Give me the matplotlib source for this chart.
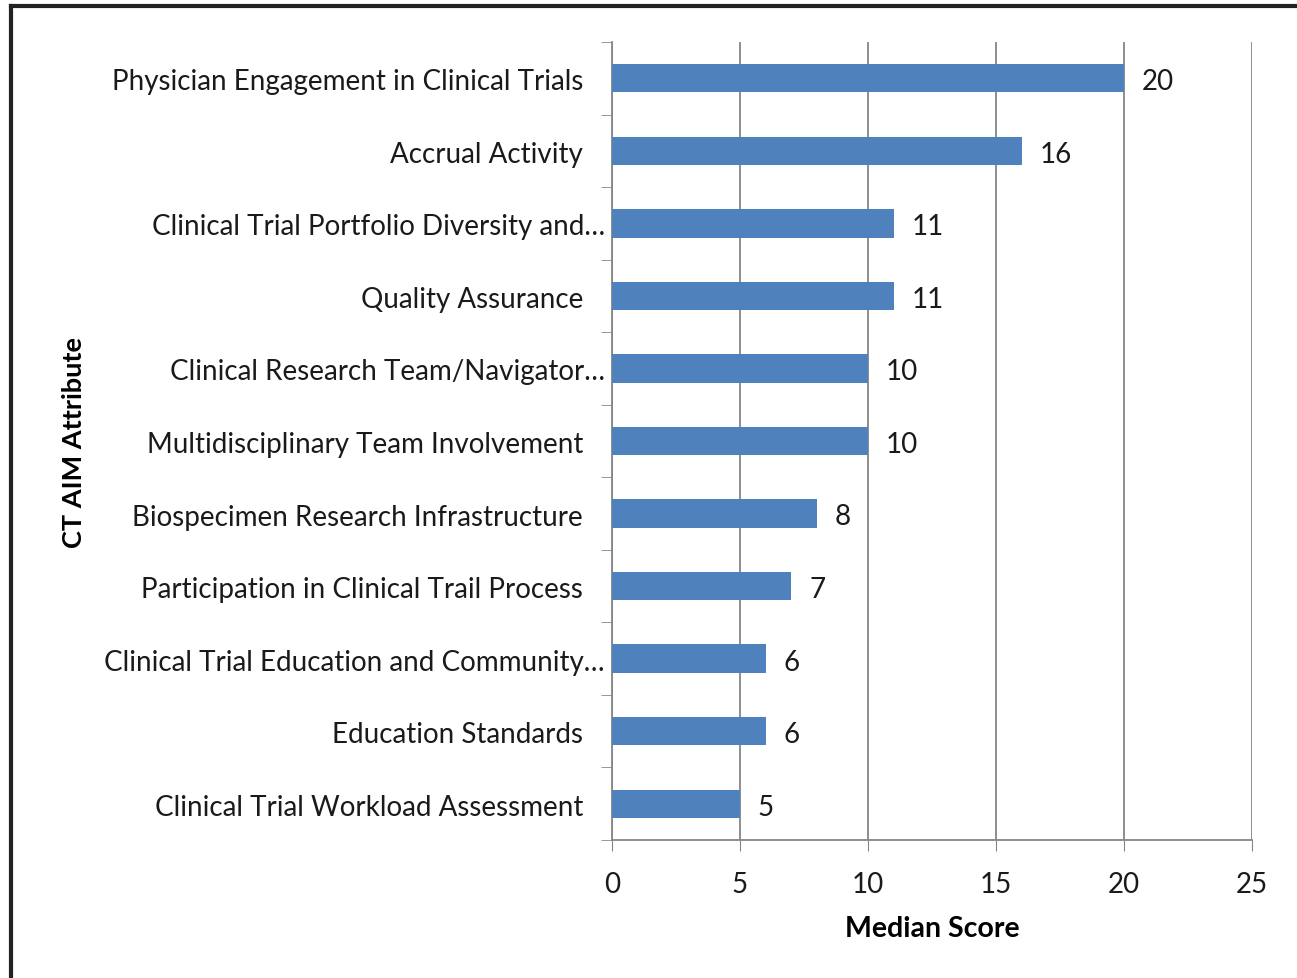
import matplotlib.pyplot as plt
from matplotlib.lines import Line2D
from matplotlib.transforms import blended_transform_factory, offset_copy

# dati (dall'alto verso il basso)
attributes = [
    "Physician Engagement in Clinical Trials",
    "Accrual Activity",
    "Clinical Trial Portfolio Diversity and\u2026",
    "Quality Assurance",
    "Clinical Research Team/Navigator\u2026",
    "Multidisciplinary Team Involvement",
    "Biospecimen Research Infrastructure",
    "Participation in Clinical Trail Process",
    "Clinical Trial Education and Community\u2026",
    "Education Standards",
    "Clinical Trial Workload Assessment",
]
median_scores = [20, 16, 11, 11, 10, 10, 8, 7, 6, 6, 5]
x_ticks = [0, 5, 10, 15, 20, 25]

plt.rcParams['font.family'] = ['Lato', 'DejaVu Sans']
grey = '#868686'
txt = '#1a1a1a'

fig = plt.figure(figsize=(12.97, 9.79), dpi=100)
ax = fig.add_axes([612 / 1297, 1 - 841 / 979, 640 / 1297, 798 / 979])

n = len(attributes)
pos = list(range(n))[::-1]
ax.barh(pos, median_scores, height=0.39, color='#4F81BD', zorder=3)

for p, v in zip(pos, median_scores):
    ax.text(v + 0.7, p - 0.04, str(v), va='center', ha='left', fontsize=20, color=txt)

ax.set_xlim(0, 25)
ax.set_ylim(-0.5, n - 0.5)
ax.set_xticks(x_ticks)
ax.set_xticklabels([str(t) for t in x_ticks], fontsize=20, color=txt)
ax.set_yticks(pos)
ax.set_yticklabels([])
ax.tick_params(axis='y', length=0)
ax.tick_params(axis='x', length=8, color=grey, pad=14)
# tacche tra le categorie
ax.set_yticks([i - 0.5 for i in range(n + 1)], minor=True)
ax.tick_params(axis='y', which='minor', length=8, color=grey)

# etichette delle categorie (quelle troncate arrivano più a destra, come in Excel)
trans = blended_transform_factory(ax.transAxes, ax.transData)
for p, lab in zip(pos, attributes):
    shift = -7 if lab.endswith('\u2026') else -29
    ax.text(0, p, lab, ha='right', va='center', fontsize=20, color=txt,
            transform=offset_copy(trans, fig=fig, x=shift, y=-3, units='dots'))

ax.grid(axis='x', color=grey, linewidth=1.3, zorder=0)
for s in ['top', 'right']:
    ax.spines[s].set_visible(False)
for s in ['left', 'bottom']:
    ax.spines[s].set_color(grey)
    ax.spines[s].set_linewidth(1.3)

ax.set_xlabel('Median Score', fontsize=20.5, fontweight='bold', labelpad=13)
ax.set_ylabel('CT AIM Attribute', fontsize=19.5, fontweight='bold')
ax.yaxis.set_label_coords(-(612 - 86) / 640, 0.5)

# cornice esterna
fig.add_artist(Line2D([11 / 1297, 11 / 1297], [0, 1 - 7 / 979], transform=fig.transFigure,
                      color='#222222', linewidth=3))
fig.add_artist(Line2D([11 / 1297, 1], [1 - 7 / 979, 1 - 7 / 979], transform=fig.transFigure,
                      color='#222222', linewidth=3))

fig.savefig('out.png', dpi=100)
